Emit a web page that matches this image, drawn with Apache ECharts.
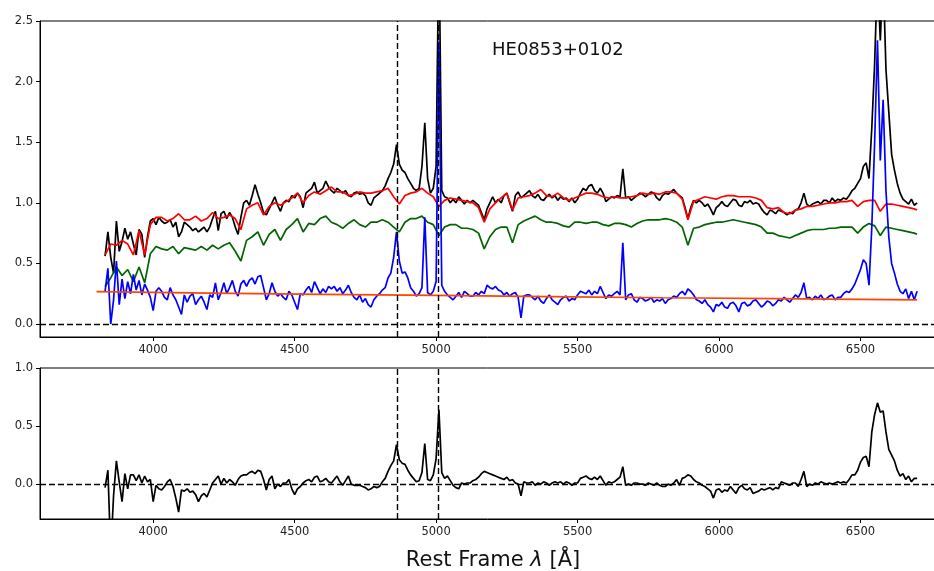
<!DOCTYPE html>
<html>
<head>
<meta charset="utf-8">
<script src="https://cdn.jsdelivr.net/npm/echarts@6/dist/echarts.min.js"></script>
<style>
  html, body { margin: 0; padding: 0; background: #fff; }
  #c { width: 934px; height: 571px; }
</style>
</head>
<body>
<div id="c"></div>
<script>
// ---------- DATA ----------
// fine wavelength grid (Angstrom) for observed, AGN and residual spectra
const wlFine = [
  3830,3840,3850,3860,3870,3880,3890,3900,3910,3920,
  3930,3940,3950,3960,3970,3980,3990,4000,4010,4020,
  4030,4040,4050,4060,4070,4080,4090,4100,4110,4120,
  4130,4140,4150,4160,4170,4180,4190,4200,4210,4220,
  4230,4240,4250,4260,4270,4280,4290,4300,4310,4320,
  4330,4340,4350,4360,4370,4380,4390,4400,4410,4420,
  4430,4440,4450,4460,4470,4480,4490,4500,4510,4520,
  4530,4540,4550,4560,4570,4580,4590,4600,4610,4620,
  4630,4640,4650,4660,4670,4680,4690,4700,4710,4720,
  4730,4740,4750,4760,4770,4780,4790,4800,4810,4820,
  4830,4840,4850,4860,4870,4880,4890,4900,4910,4920,
  4930,4940,4950,4960,4970,4980,4990,5000,5010,5020,
  5030,5040,5050,5060,5070,5080,5090,5100,5110,5120,
  5130,5140,5150,5160,5170,5180,5190,5200,5210,5220,
  5230,5240,5250,5260,5270,5280,5290,5300,5310,5320,
  5330,5340,5350,5360,5370,5380,5390,5400,5410,5420,
  5430,5440,5450,5460,5470,5480,5490,5500,5510,5520,
  5530,5540,5550,5560,5570,5580,5590,5600,5610,5620,
  5630,5640,5650,5660,5670,5680,5690,5700,5710,5720,
  5730,5740,5750,5760,5770,5780,5790,5800,5810,5820,
  5830,5840,5850,5860,5870,5880,5890,5900,5910,5920,
  5930,5940,5950,5960,5970,5980,5990,6000,6010,6020,
  6030,6040,6050,6060,6070,6080,6090,6100,6110,6120,
  6130,6140,6150,6160,6170,6180,6190,6200,6210,6220,
  6230,6240,6250,6260,6270,6280,6290,6300,6310,6320,
  6330,6340,6350,6360,6370,6380,6390,6400,6410,6420,
  6430,6440,6450,6460,6470,6480,6490,6500,6510,6520,
  6530,6540,6550,6560,6570,6580,6590,6600,6610,6620,
  6630,6640,6650,6660,6670,6680,6690,6700
];

// observed spectrum (black)
const fluxObs = [
  0.56,0.76,0.55,0.42,0.85,0.60,0.68,0.79,0.70,0.76,
  0.66,0.57,0.78,0.74,0.55,0.72,0.85,0.87,0.82,0.88,
  0.85,0.83,0.84,0.86,0.80,0.84,0.72,0.76,0.84,0.82,
  0.80,0.77,0.79,0.76,0.78,0.80,0.76,0.80,0.87,0.93,
  0.77,0.91,0.93,0.87,0.92,0.88,0.80,0.74,0.88,1.00,
  1.02,0.98,1.06,1.15,1.07,1.00,0.92,0.90,0.95,1.00,
  1.05,0.98,0.93,1.00,1.02,1.01,1.06,1.04,1.08,1.05,
  0.96,1.08,1.10,1.12,1.17,1.08,1.10,1.12,1.18,1.13,
  1.10,1.08,1.12,1.10,1.08,1.10,1.06,1.05,1.08,1.09,
  1.07,1.08,1.06,1.00,0.98,1.04,1.06,1.08,1.10,1.14,
  1.20,1.25,1.32,1.48,1.32,1.27,1.25,1.20,1.16,1.12,
  1.10,1.12,1.30,1.66,1.20,1.08,1.12,1.30,3.20,1.10,
  1.05,1.04,1.00,1.03,1.00,1.05,1.02,0.99,1.02,1.00,
  1.02,1.00,0.98,0.92,0.86,0.95,1.00,1.05,1.00,1.03,
  1.00,1.06,1.08,1.00,0.93,1.06,1.09,1.04,1.06,1.08,
  1.10,1.06,1.04,1.07,1.03,1.02,1.05,1.07,1.04,1.06,
  1.02,1.05,1.03,1.04,1.01,1.04,1.00,1.03,1.08,1.12,
  1.10,1.14,1.15,1.10,1.08,1.12,1.08,1.01,1.03,1.05,
  1.04,1.06,1.05,1.28,1.04,1.05,1.02,1.04,1.06,1.08,
  1.07,1.05,1.07,1.09,1.08,1.04,1.02,1.06,1.08,1.07,
  1.09,1.11,1.08,1.06,1.04,0.96,0.87,0.96,1.02,1.00,
  1.02,1.00,0.97,0.99,0.95,0.90,0.96,0.98,1.01,0.98,
  0.97,1.00,1.03,1.02,0.98,0.97,1.01,1.00,1.02,0.99,
  1.00,0.99,0.95,0.92,0.90,0.94,0.93,0.91,0.94,0.93,
  0.92,0.90,0.92,0.91,0.94,0.95,1.00,1.08,0.99,0.97,
  0.99,1.00,1.01,0.99,1.02,1.02,1.00,1.04,1.01,1.03,
  1.02,1.04,1.03,1.06,1.10,1.12,1.16,1.20,1.30,1.33,
  1.20,1.62,2.15,2.90,2.34,2.90,2.10,1.75,1.40,1.27,
  1.16,1.08,1.03,1.01,0.99,1.03,0.98,1.00
];

// AGN spectrum = observed minus host (blue)
const fluxAgn = [
  0.27,0.46,0.00,0.20,0.52,0.16,0.37,0.21,0.35,0.25,
  0.41,0.28,0.36,0.24,0.33,0.28,0.22,0.11,0.27,0.30,
  0.27,0.22,0.20,0.30,0.24,0.20,0.14,0.08,0.24,0.18,
  0.23,0.25,0.16,0.20,0.23,0.18,0.12,0.24,0.22,0.34,
  0.20,0.26,0.34,0.25,0.30,0.36,0.27,0.23,0.33,0.36,
  0.31,0.36,0.38,0.33,0.39,0.40,0.30,0.20,0.25,0.34,
  0.27,0.23,0.25,0.22,0.20,0.27,0.24,0.18,0.12,0.25,
  0.24,0.28,0.31,0.26,0.35,0.30,0.25,0.29,0.26,0.31,
  0.29,0.31,0.27,0.30,0.25,0.28,0.32,0.26,0.22,0.20,
  0.24,0.18,0.21,0.16,0.14,0.20,0.23,0.25,0.28,0.30,
  0.38,0.42,0.55,0.76,0.52,0.42,0.43,0.38,0.30,0.27,
  0.23,0.25,0.30,0.88,0.26,0.24,0.27,0.35,2.33,0.32,
  0.27,0.24,0.22,0.20,0.23,0.26,0.22,0.27,0.25,0.23,
  0.23,0.26,0.24,0.27,0.25,0.32,0.30,0.29,0.31,0.28,
  0.27,0.24,0.26,0.23,0.25,0.26,0.22,0.05,0.23,0.24,
  0.24,0.22,0.20,0.23,0.19,0.17,0.21,0.24,0.20,0.18,
  0.16,0.20,0.22,0.23,0.19,0.21,0.20,0.24,0.27,0.26,
  0.25,0.28,0.24,0.27,0.25,0.31,0.26,0.21,0.24,0.23,
  0.25,0.27,0.24,0.67,0.20,0.24,0.25,0.20,0.18,0.22,
  0.21,0.19,0.20,0.22,0.18,0.20,0.19,0.21,0.17,0.20,
  0.21,0.23,0.22,0.25,0.27,0.24,0.29,0.27,0.24,0.20,
  0.19,0.17,0.20,0.16,0.14,0.10,0.16,0.15,0.18,0.14,
  0.13,0.17,0.18,0.15,0.10,0.17,0.18,0.15,0.16,0.19,
  0.20,0.17,0.14,0.16,0.19,0.18,0.15,0.17,0.20,0.19,
  0.22,0.20,0.18,0.21,0.24,0.22,0.26,0.34,0.21,0.22,
  0.20,0.23,0.21,0.24,0.20,0.21,0.23,0.24,0.20,0.22,
  0.22,0.25,0.27,0.26,0.29,0.33,0.39,0.45,0.53,0.50,
  0.32,0.80,1.50,2.34,1.35,1.85,1.10,0.72,0.50,0.42,
  0.33,0.27,0.25,0.29,0.21,0.27,0.20,0.27
];

// emission-line residual (bottom panel)
const fluxRes = [
  -0.03,0.12,-0.60,-0.10,0.20,0.02,-0.15,0.09,-0.04,0.08,
  0.08,0.03,0.08,0.01,0.07,0.02,0.04,-0.15,-0.01,-0.04,
  -0.05,-0.02,0.02,0.04,-0.02,-0.12,-0.24,-0.05,-0.06,-0.04,
  -0.07,-0.06,-0.09,-0.15,-0.10,-0.08,-0.11,-0.05,0.01,0.04,
  0.07,0.00,0.05,0.01,0.04,0.02,-0.01,0.04,0.07,0.08,
  0.08,0.10,0.11,0.09,0.12,0.11,0.04,-0.05,0.04,0.07,
  -0.04,0.00,-0.02,0.01,0.01,0.04,-0.04,-0.09,-0.04,-0.02,
  0.01,0.03,0.04,0.02,0.06,0.07,0.02,0.03,0.05,0.02,
  0.01,0.04,0.07,0.02,-0.01,0.03,0.07,0.00,-0.01,-0.01,
  -0.01,-0.02,-0.03,-0.05,-0.04,-0.02,-0.03,-0.02,0.02,0.05,
  0.11,0.16,0.20,0.34,0.21,0.18,0.17,0.12,0.08,0.05,
  0.02,0.03,0.10,0.35,0.04,0.03,0.08,0.22,0.64,0.10,
  0.05,0.07,0.03,-0.01,-0.03,-0.04,0.01,0.00,0.01,0.01,
  0.03,0.04,0.06,0.09,0.11,0.10,0.09,0.08,0.07,0.06,
  0.05,0.04,0.06,0.03,0.04,0.01,0.00,-0.10,0.02,0.01,
  0.01,0.02,-0.01,0.01,0.00,0.02,0.01,-0.01,0.01,0.02,
  0.01,0.02,0.00,0.02,0.01,-0.01,0.01,0.01,0.05,0.06,
  0.07,0.05,0.04,0.06,0.04,0.07,0.03,-0.01,0.02,0.01,
  0.02,0.04,0.06,0.15,-0.01,0.00,-0.01,0.01,0.01,0.00,
  0.00,-0.01,0.01,0.00,-0.01,0.01,-0.01,-0.02,-0.02,0.00,
  -0.01,0.01,0.04,-0.01,0.05,0.06,0.08,0.07,0.04,0.02,
  0.01,-0.01,-0.02,-0.04,-0.06,-0.12,-0.05,-0.04,-0.07,-0.05,
  -0.06,-0.02,-0.05,-0.08,-0.03,-0.01,-0.04,-0.05,-0.03,-0.08,
  -0.07,-0.06,-0.04,-0.05,-0.04,-0.03,-0.05,-0.03,-0.04,0.02,
  0.01,0.00,-0.01,0.01,0.01,-0.02,0.04,0.11,-0.02,0.00,
  -0.01,0.01,0.00,0.02,0.01,0.00,0.01,0.00,0.01,0.02,
  0.01,0.02,0.01,0.04,0.08,0.08,0.12,0.19,0.23,0.24,
  0.15,0.45,0.60,0.70,0.62,0.63,0.45,0.30,0.25,0.20,
  0.12,0.07,0.09,0.04,0.07,0.02,0.05,0.05
];

// coarse wavelength grid for the model components
const wlCoarse = [
  3830,3850,3870,3890,3910,3930,3950,3970,3990,4010,
  4030,4050,4070,4090,4110,4130,4150,4170,4190,4210,
  4230,4250,4270,4290,4310,4330,4350,4370,4390,4410,
  4430,4450,4470,4490,4510,4530,4550,4570,4590,4610,
  4630,4650,4670,4690,4710,4730,4750,4770,4790,4810,
  4830,4850,4870,4890,4910,4930,4950,4970,4990,5010,
  5030,5050,5070,5090,5110,5130,5150,5170,5190,5210,
  5230,5250,5270,5290,5310,5330,5350,5370,5390,5410,
  5430,5450,5470,5490,5510,5530,5550,5570,5590,5610,
  5630,5650,5670,5690,5710,5730,5750,5770,5790,5810,
  5830,5850,5870,5890,5910,5930,5950,5970,5990,6010,
  6030,6050,6070,6090,6110,6130,6150,6170,6190,6210,
  6230,6250,6270,6290,6310,6330,6350,6370,6390,6410,
  6430,6450,6470,6490,6510,6530,6550,6570,6590,6610,
  6630,6650,6670,6690,6700
];

// total model: host + power law (red)
const fluxModel = [
  0.57,0.66,0.65,0.69,0.66,0.57,0.77,0.57,0.82,0.88,
  0.88,0.85,0.87,0.91,0.86,0.86,0.89,0.85,0.87,0.92,
  0.87,0.88,0.90,0.87,0.78,0.95,0.98,1.00,0.90,0.97,
  1.00,0.98,1.01,1.04,1.08,1.00,1.06,1.09,1.07,1.10,
  1.13,1.09,1.09,1.06,1.07,1.09,1.08,1.08,1.09,1.10,
  1.12,1.05,0.99,1.06,1.08,1.09,1.12,1.08,1.05,0.97,
  1.02,1.04,1.03,1.02,1.01,1.00,0.96,0.84,0.95,1.00,
  1.04,1.08,0.94,1.04,1.05,1.06,1.08,1.11,1.06,1.05,
  1.08,1.04,1.02,1.04,1.06,1.08,1.08,1.07,1.05,1.04,
  1.05,1.04,1.04,1.05,1.06,1.08,1.07,1.08,1.07,1.09,
  1.09,1.08,1.03,0.86,1.01,1.03,1.05,1.04,1.03,1.05,
  1.06,1.06,1.05,1.05,1.05,1.04,1.02,0.96,0.95,0.96,
  0.92,0.91,0.94,0.95,0.97,0.97,0.98,0.99,1.00,1.00,
  1.01,1.01,1.02,0.97,1.01,1.02,1.02,0.93,0.99,0.99,
  0.98,0.97,0.96,0.95,0.94
];

// stellar host component (green)
const fluxHost = [
  0.31,0.38,0.47,0.40,0.45,0.35,0.47,0.34,0.58,0.64,
  0.62,0.61,0.64,0.58,0.63,0.62,0.61,0.64,0.61,0.65,
  0.62,0.65,0.67,0.60,0.52,0.69,0.72,0.76,0.65,0.74,
  0.78,0.69,0.78,0.82,0.87,0.76,0.83,0.82,0.87,0.89,
  0.84,0.82,0.79,0.83,0.86,0.82,0.80,0.84,0.84,0.86,
  0.84,0.80,0.76,0.84,0.87,0.87,0.89,0.84,0.82,0.73,
  0.80,0.82,0.82,0.79,0.79,0.78,0.75,0.62,0.72,0.78,
  0.80,0.80,0.67,0.82,0.85,0.87,0.89,0.86,0.84,0.84,
  0.83,0.81,0.80,0.84,0.84,0.83,0.84,0.84,0.82,0.81,
  0.83,0.83,0.82,0.80,0.83,0.85,0.86,0.86,0.86,0.87,
  0.86,0.84,0.80,0.65,0.79,0.80,0.82,0.83,0.84,0.84,
  0.85,0.86,0.85,0.84,0.83,0.82,0.80,0.75,0.75,0.73,
  0.72,0.71,0.73,0.75,0.77,0.78,0.78,0.78,0.79,0.79,
  0.80,0.80,0.80,0.75,0.80,0.83,0.81,0.73,0.80,0.79,
  0.78,0.77,0.76,0.75,0.74
];

// AGN power-law continuum (orange-red)
const wlPL   = [3800, 4200, 4600, 5000, 5400, 5800, 6200, 6700];
const fluxPL = [0.267, 0.255, 0.245, 0.236, 0.226, 0.217, 0.209, 0.199];

// reference lines and ticks
const lineMarks = [4861, 5007];
const xTicks = [4000, 4500, 5000, 5500, 6000, 6500];
const yTicksTop = [0, 0.5, 1.0, 1.5, 2.0, 2.5];
const yTicksBottom = [0, 0.5, 1.0];
const objectName = 'HE0853+0102';

// ---------- CHART ----------
const pairs = (xs, ys) => xs.map((x, i) => [x, ys[i]]);
const FONT = 'DejaVu Sans';

const chart = echarts.init(document.getElementById('c'), null, { renderer: 'canvas' });

function xAxisFor(idx) {
  return {
    gridIndex: idx, type: 'value', min: 3600, max: 6781,
    axisLine: { show: true, onZero: false, lineStyle: { color: '#000', width: 1 } },
    axisTick: { show: true, length: 4, customValues: xTicks, lineStyle: { color: '#000', width: 1 } },
    axisLabel: { customValues: xTicks, formatter: v => String(v), fontSize: 11.5,
                 fontFamily: FONT, color: '#222', margin: 7 },
    splitLine: { show: false }
  };
}
function yAxisFor(idx, mn, mx, ticks) {
  return {
    gridIndex: idx, type: 'value', min: mn, max: mx,
    axisLine: { show: true, onZero: false, lineStyle: { color: '#000', width: 1 } },
    axisTick: { show: true, length: 4, customValues: ticks, lineStyle: { color: '#000', width: 1 } },
    axisLabel: { customValues: ticks, formatter: v => v.toFixed(1), fontSize: 11.5,
                 fontFamily: FONT, color: '#222', margin: 7 },
    splitLine: { show: false }
  };
}

const dashed = { type: [6, 3], color: '#000', width: 1.4 };
function marks() {
  return {
    silent: true, symbol: ['none', 'none'], label: { show: false },
    lineStyle: dashed, emphasis: { disabled: true },
    data: [{ yAxis: 0 }].concat(lineMarks.map(v => ({ xAxis: v })))
  };
}
function lineSeries(name, data, color, xi, extra) {
  return Object.assign({
    name, type: 'line', data, xAxisIndex: xi, yAxisIndex: xi,
    showSymbol: false, symbol: 'none', smooth: false, clip: true,
    lineStyle: { color, width: 1.7 }, itemStyle: { color },
    emphasis: { disabled: true }, animation: false
  }, extra || {});
}

chart.setOption({
  animation: false,
  backgroundColor: '#fff',
  grid: [
    { left: 40, top: 21, width: 900, height: 316, show: true, borderColor: '#000', borderWidth: 1,
      backgroundColor: 'transparent', outerBoundsMode: 'none' },
    { left: 40, top: 368, width: 900, height: 151, show: true, borderColor: '#000', borderWidth: 1,
      backgroundColor: 'transparent', outerBoundsMode: 'none' }
  ],
  xAxis: [xAxisFor(0), xAxisFor(1)],
  yAxis: [yAxisFor(0, -0.107, 2.5, yTicksTop), yAxisFor(1, -0.3, 1.0, yTicksBottom)],
  series: [
    lineSeries('observed', pairs(wlFine, fluxObs), '#000000', 0, { markLine: marks() }),
    lineSeries('model', pairs(wlCoarse, fluxModel), '#ff0000', 0),
    lineSeries('host', pairs(wlCoarse, fluxHost), '#006400', 0),
    lineSeries('agn', pairs(wlFine, fluxAgn), '#0000ff', 0),
    lineSeries('powerlaw', pairs(wlPL, fluxPL), '#ff4500', 0),
    lineSeries('residual', pairs(wlFine, fluxRes), '#000000', 1, { markLine: marks() })
  ],
  graphic: [
    { type: 'text', left: 492, top: 41, silent: true,
      style: { text: objectName, font: '18px "DejaVu Sans"', fill: '#111' } },
    { type: 'text', x: 493, y: 561, silent: true,
      style: {
        text: '{a|Rest Frame }{b|λ}{a| [Å]}',
        align: 'center', verticalAlign: 'middle',
        rich: {
          a: { fontFamily: FONT, fontSize: 21, fill: '#111' },
          b: { fontFamily: FONT, fontSize: 21, fontStyle: 'italic', fill: '#111' }
        }
      } }
  ]
});
</script>
</body>
</html>
